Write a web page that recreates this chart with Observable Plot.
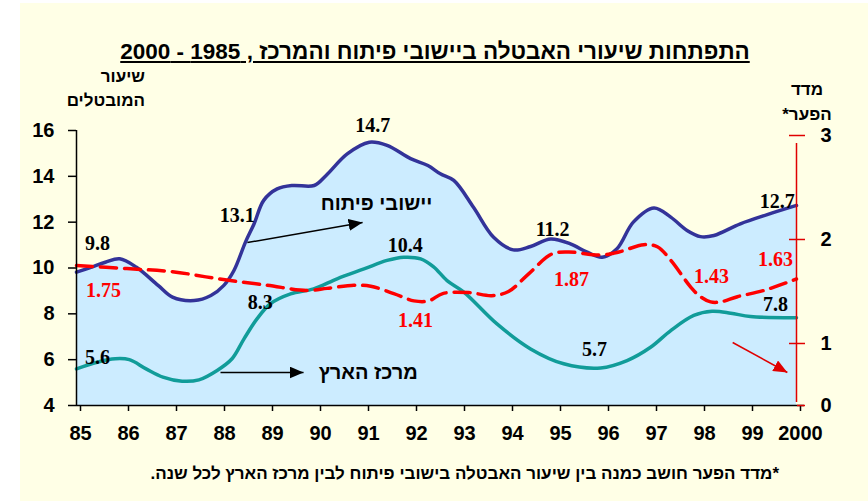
<!DOCTYPE html>
<html><head><meta charset="utf-8">
<script src="https://cdn.jsdelivr.net/npm/d3@7"></script>
<script src="https://cdn.jsdelivr.net/npm/@observablehq/plot@0.6"></script>
<style>
html,body{margin:0;padding:0;background:#fff;}
#wrap{position:absolute;left:20px;top:3px;width:848px;height:498px;background:#FFFFE6;overflow:hidden;}
#title{height:65px;box-sizing:border-box;padding-top:36px;padding-right:18px;line-height:26px;text-align:center;font:bold 22.5px "Liberation Sans",Arial,sans-serif;color:#000;}
#title span{text-decoration:underline;}
#chart svg{display:block;}
#note{box-sizing:border-box;padding-top:6px;padding-right:89px;line-height:20px;text-align:right;font:bold 17px "Liberation Sans",Arial,sans-serif;color:#000;}
</style></head><body>
<div id="wrap">
  <div id="title" dir="rtl"><span>התפתחות שיעורי האבטלה ביישובי פיתוח והמרכז , 1985 - 2000</span></div>
  <div id="chart"></div>
  <div id="note" dir="rtl">*מדד הפער חושב כמנה בין שיעור האבטלה בישובי פיתוח לבין מרכז הארץ לכל שנה.</div>
</div>
<script>
// ---- data ----
const devYears = [1985.0,1985.3,1985.6,1985.9,1986.25,1986.7,1987.0,1987.45,1987.8,1988.07,1988.28,1988.52,1988.7,1988.9,1989.18,1989.5,1989.95,1990.2,1990.64,1991.1,1991.47,1991.96,1992.32,1992.58,1992.86,1993.27,1993.69,1994.1,1994.46,1994.88,1995.29,1995.64,1995.95,1996.26,1996.6,1997.03,1997.38,1997.72,1998.0,1998.28,1998.83,1999.39,2000.0];
const devRate  = [9.82,10.03,10.25,10.40,10.03,9.24,8.73,8.58,8.80,9.24,9.89,11.13,11.93,12.95,13.45,13.60,13.60,14.04,14.98,15.49,15.35,14.77,14.47,14.11,13.82,12.65,11.34,10.79,10.94,11.27,11.05,10.69,10.47,10.84,12.00,12.62,12.22,11.64,11.37,11.42,11.93,12.33,12.73];

const centerYears = [1985.0,1985.43,1985.81,1986.1,1986.45,1986.8,1987.2,1987.55,1987.93,1988.24,1988.49,1988.76,1989.04,1989.46,1989.94,1990.43,1990.99,1991.47,1991.82,1992.17,1992.44,1992.72,1993.07,1993.76,1994.46,1995.15,1995.92,1996.47,1996.96,1997.38,1997.86,1998.24,1998.63,1999.04,2000.0];
const centerRate  = [5.60,5.89,6.04,6.00,5.60,5.24,5.06,5.12,5.53,6.04,6.91,7.78,8.44,8.87,9.09,9.53,9.96,10.33,10.47,10.40,10.05,9.45,8.95,7.56,6.47,5.82,5.64,5.96,6.54,7.27,7.93,8.11,8.03,7.88,7.83];

const gapYears = [1985.0,1986.05,1987.0,1987.98,1988.97,1989.8,1990.22,1990.78,1991.13,1991.61,1992.03,1992.34,1992.63,1993.17,1993.65,1994.0,1994.42,1994.9,1995.25,1995.9,1996.3,1996.82,1997.1,1997.38,1997.8,1998.0,1998.21,1998.42,1998.77,1999.32,2000.0];
const gapIndex = [1.75,1.72,1.69,1.62,1.56,1.51,1.53,1.56,1.55,1.48,1.41,1.41,1.48,1.49,1.46,1.50,1.67,1.86,1.88,1.85,1.88,1.95,1.93,1.80,1.54,1.45,1.40,1.40,1.45,1.51,1.62];

const xTickYears  = [1985,1986,1987,1988,1989,1990,1991,1992,1993,1994,1995,1996,1997,1998,1999,2000];
const xTickLabels = ["85","86","87","88","89","90","91","92","93","94","95","96","97","98","99","2000"];
const leftTicks  = [4,6,8,10,12,14,16];
const rightTicks = [0,1,2,3];

const valueLabels = ["9.8","13.1","14.7","11.2","12.7","5.6","8.3","10.4","5.7","7.8","1.75","1.41","1.87","1.43","1.63"];
const valueLabelSeries = ["dev","dev","dev","dev","dev","center","center","center","center","center","gap","gap","gap","gap","gap"];

// annotation placement (x in years, y in left-axis units)
const labelAtYear  = [1985.44,1988.35,1991.17,1994.92,1999.6,1985.44,1988.83,1991.85,1995.79,1999.56,1985.56,1992.06,1995.31,1998.23,1999.56];
const labelAtLevel = [11.07,12.29,16.22,11.68,12.90,6.09,8.49,10.98,6.44,8.41,9.02,7.71,9.50,9.63,10.37];

// secondary (gap index) axis as drawn: 1,2,3 on a linear scale, "0" at the bottom of the frame
const gapToLeft = d3.scaleLinear().domain([1, 3]).range([6.706, 15.782]);
const rightTickPos = r => (r === 0 ? 4 : gapToLeft(r));

const dev = devYears.map((x, i) => ({x, y: devRate[i]}));
const center = centerYears.map((x, i) => ({x, y: centerRate[i]}));
const gap = gapYears.map((x, i) => ({x, y: gapToLeft(gapIndex[i])}));
const labels = valueLabels.map((t, i) => ({t, s: valueLabelSeries[i], x: labelAtYear[i], y: labelAtLevel[i]}));

const seriesNames = [
  {t: "יישובי פיתוח", x: 1991.25, y: 12.81},
  {t: "מרכז הארץ", x: 1991.08, y: 5.44}
];
const arrows = [
  {x1: 1988.56, y1: 11.11, x2: 1990.96, y2: 11.99, c: "#000"},
  {x1: 1988.0, y1: 5.44, x2: 1989.73, y2: 5.44, c: "#000"},
  {x1: 1998.67, y1: 6.75, x2: 1999.81, y2: 5.44, c: "#E00000"}
];

function headMarker(color, context) {
  const ns = "http://www.w3.org/2000/svg";
  const doc = (context && context.document) || document;
  const m = doc.createElementNS(ns, "marker");
  m.setAttribute("viewBox", "-14 -6 14 12");
  m.setAttribute("markerWidth", "14");
  m.setAttribute("markerHeight", "12");
  m.setAttribute("markerUnits", "userSpaceOnUse");
  m.setAttribute("refX", "0");
  m.setAttribute("refY", "0");
  m.setAttribute("orient", "auto");
  const p = doc.createElementNS(ns, "path");
  p.setAttribute("d", "M-14,-6L0,0L-14,6Z");
  p.setAttribute("fill", color);
  p.setAttribute("stroke", "none");
  m.appendChild(p);
  return m;
}

const curve = "catmull-rom";
const chart = Plot.plot({
  width: 848,
  height: 390,
  marginLeft: 56,
  marginRight: 72,
  marginTop: 62,
  marginBottom: 53,
  x: {domain: [1985, 2000], axis: null},
  y: {domain: [4, 16], axis: null},
  style: {background: "transparent", fontFamily: "'Liberation Sans', Arial, sans-serif", fontWeight: "bold", fontSize: "20px", color: "#000", overflow: "visible"},
  marks: [
    Plot.areaY(dev, {x: "x", y1: 4, y2: "y", curve, fill: "#CCECFF"}),
    Plot.lineY(center, {x: "x", y: "y", curve, stroke: "#119C99", strokeWidth: 3.5}),
    Plot.lineY(dev, {x: "x", y: "y", curve, stroke: "#333399", strokeWidth: 3.5}),
    Plot.lineY(gap, {x: "x", y: "y", curve, stroke: "#FF0000", strokeWidth: 3.5, strokeDasharray: "16,8"}),
    // axes
    Plot.ruleX([1985], {y1: 4, y2: 16, stroke: "#000", strokeWidth: 1.5}),
    Plot.ruleY([4], {x1: 1985, x2: 2000, insetRight: -8, stroke: "#000", strokeWidth: 1.5}),
    Plot.axisX({ticks: xTickYears, tickFormat: d => xTickLabels[xTickYears.indexOf(d)], tickSize: 6, tickPadding: 14, fontSize: 20, fontWeight: "bold", strokeWidth: 1.5, dx: 4}),
    Plot.axisY({anchor: "left", ticks: leftTicks, tickSize: 8, tickPadding: 14, fontSize: 20, fontWeight: "bold", strokeWidth: 1.5}),
    Plot.ruleX([2000], {y1: 4, y2: gapToLeft(3), insetTop: -3, insetBottom: -8, stroke: "#E00000", strokeWidth: 1.5}),
    Plot.axisY({anchor: "right", ticks: rightTicks.map(rightTickPos), tickFormat: d => String(rightTicks.find(r => Math.abs(rightTickPos(r) - d) < 1e-6)), tickSize: 8, tickPadding: 16, fontSize: 20, fontWeight: "bold", stroke: "#E00000", strokeWidth: 1.5}),
    Plot.axisY({anchor: "right", ticks: rightTicks.slice(1).map(rightTickPos), tickFormat: () => "", tickSize: -8, tickPadding: 0, stroke: "#E00000", strokeWidth: 1.5}),
    // value labels
    Plot.text(labels, {x: "x", y: "y", text: "t", fill: d => d.s === "gap" ? "#FF0000" : "#000", fontFamily: "'Liberation Serif', 'Times New Roman', serif", fontSize: 20, fontWeight: "bold"}),
    Plot.text(seriesNames, {x: "x", y: "y", text: "t", fontSize: 20, fontWeight: "bold"}),
    Plot.link(arrows, {x1: "x1", y1: "y1", x2: "x2", y2: "y2", stroke: "c", strokeWidth: 1.5, markerEnd: headMarker})
  ]
});
document.getElementById("chart").appendChild(chart);

// axis titles drawn in the svg above the frame
const svg = d3.select(chart);
const titles = [
  {t: "שיעור", x: 125, y: 10, a: "end"},
  {t: "המובטלים", x: 125, y: 34, a: "end"},
  {t: "מדד", x: 787, y: 23, a: "middle"},
  {t: "הפער*\u200F", x: 787, y: 48, a: "middle"}
];
svg.append("g").selectAll("text").data(titles).join("text")
  .attr("x", d => d.x).attr("y", d => d.y).attr("text-anchor", d => d.a)
  .attr("dominant-baseline", "middle").attr("font-size", 17).attr("font-weight", "bold")
  .attr("font-family", "'Liberation Sans', Arial, sans-serif").text(d => d.t);
</script>
</body></html>
